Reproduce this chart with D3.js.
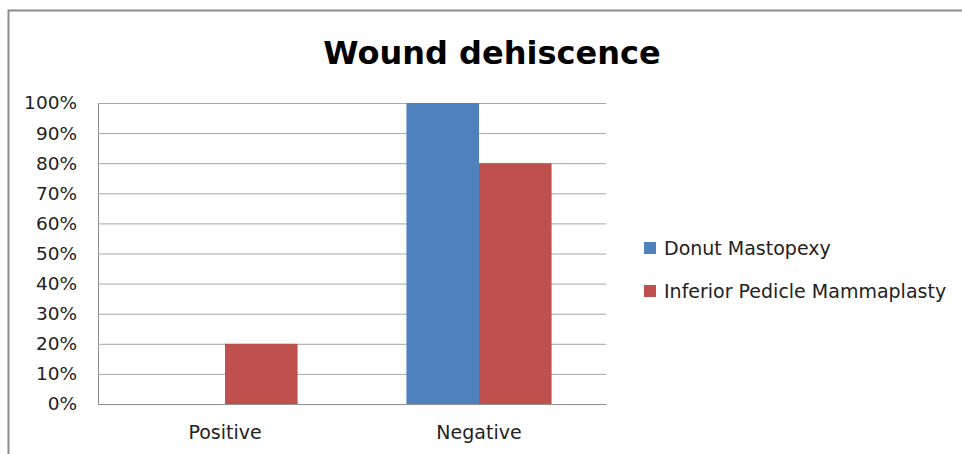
<!DOCTYPE html>
<html>
<head>
<meta charset="utf-8">
<script src="https://cdn.jsdelivr.net/npm/d3@7"></script>
<style>
  body { margin: 0; background: #fff; }
  text { font-family: "DejaVu Sans", sans-serif; fill: #222; }
</style>
</head>
<body>
<script>
// ---------------------- data ----------------------
var categories = ["Positive", "Negative"];
var seriesNames = ["Donut Mastopexy", "Inferior Pedicle Mammaplasty"];
var seriesColors = ["#4f81bd", "#c0504d"];
var donutValues = [0, 100];
var inferiorValues = [20, 80];
var yTicks = [0, 10, 20, 30, 40, 50, 60, 70, 80, 90, 100];

// ---------------------- setup ----------------------
var svg = d3.select("body")
     .append("svg")
     .attr("width", 962)
     .attr("height", 454);

// chart border (left and top visible)
svg.append("rect")
     .attr("x", 8.5)
     .attr("y", 10.5)
     .attr("width", 1000)
     .attr("height", 1000)
     .style("fill", "none")
     .style("stroke", "#8c8c8c")
     .style("stroke-width", 2);

var plot = { left: 98, top: 103, right: 606, bottom: 404 };

var x0 = d3.scaleBand()
     .domain(categories)
     .range([plot.left, plot.right]);

var x1 = d3.scaleBand()
     .domain(seriesNames)
     .range([0, x0.bandwidth()])
     .paddingOuter(0.75)
     .paddingInner(0);

var y = d3.scaleLinear()
     .domain([0, 100])
     .range([plot.bottom, plot.top]);

// gridlines
var yAxis = d3.axisLeft(y)
     .tickValues(yTicks)
     .tickSize(-(plot.right - plot.left))
     .tickFormat(function(d) { return d + "%"; });

var gy = svg.append("g")
     .attr("transform", "translate(" + plot.left + ",0)")
     .call(yAxis);
gy.select(".domain").attr("stroke", "#8c8c8c");
gy.selectAll(".tick line").attr("stroke", "#a6a6a6").attr("stroke-width", 1);
gy.selectAll(".tick text")
     .attr("x", -21)
     .style("font-size", "18.5px")
     .style("fill", "#222");

// bars
var rows = categories.map(function(c, i) {
     return { cat: c, values: [donutValues[i], inferiorValues[i]] };
});

var groups = svg.selectAll(".grp")
     .data(rows)
     .enter()
     .append("g")
     .attr("transform", function(d) { return "translate(" + x0(d.cat) + ",0)"; });

groups.selectAll("rect")
     .data(function(d) { return d.values.map(function(v, j) { return { name: seriesNames[j], v: v, j: j }; }); })
     .enter()
     .append("rect")
     .attr("x", function(d) { return x1(d.name); })
     .attr("width", x1.bandwidth())
     .attr("y", function(d) { return y(d.v); })
     .attr("height", function(d) { return y(0) - y(d.v); })
     .style("fill", function(d) { return seriesColors[d.j]; });

// x axis line + labels
var xAxis = d3.axisBottom(x0).tickSize(0);
var gx = svg.append("g")
     .attr("transform", "translate(0," + plot.bottom + ")")
     .call(xAxis);
gx.select(".domain").attr("stroke", "#8c8c8c");
gx.selectAll(".tick text")
     .attr("y", 22)
     .style("font-size", "19px")
     .style("fill", "#222");

// title
svg.append("text")
     .text("Wound dehiscence")
     .attr("x", 492)
     .attr("y", 64)
     .attr("text-anchor", "middle")
     .style("font-size", "32px")
     .style("font-weight", "bold")
     .style("fill", "#000");

// legend
var legend = svg.selectAll(".leg")
     .data(seriesNames)
     .enter()
     .append("g")
     .attr("transform", function(d, i) { return "translate(644," + (242 + i * 43) + ")"; });

legend.append("rect")
     .attr("width", 12)
     .attr("height", 12)
     .style("fill", function(d, i) { return seriesColors[i]; });

legend.append("text")
     .text(function(d) { return d; })
     .attr("x", 20)
     .attr("y", 12.5)
     .style("font-size", "19px")
     .style("fill", "#222");
</script>
</body>
</html>
